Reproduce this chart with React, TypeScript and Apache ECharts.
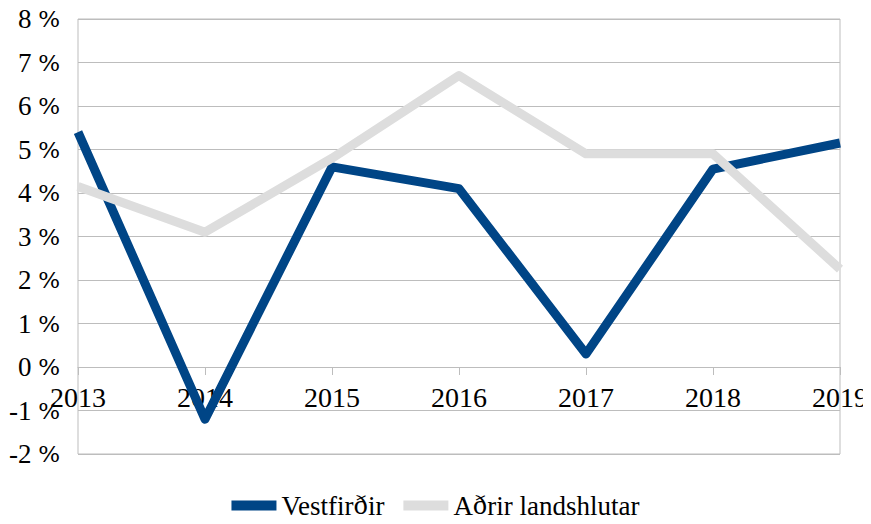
import React, { useEffect, useRef } from "react";
import * as echarts from "echarts";

const years = ["2013", "2014", "2015", "2016", "2017", "2018", "2019"];
const vestfirdir = [5.4, -1.2, 4.6, 4.1, 0.3, 4.55, 5.15];
const adrir = [4.15, 3.1, 4.8, 6.7, 4.9, 4.9, 2.25];
const seriesNames = ["Vestfirðir", "Aðrir landshlutar"];
const seriesColors = ["#004586", "#dddddd"];

const FONT = "Liberation Serif";
const ALT_FONT = "DejaVu Serif";

// split text so that glyphs like "ð" / "%" go into their own run
function splitRich(text: string): string {
  let out = "";
  let buf = "";
  for (const ch of text) {
    if (ch === "ð" || ch === "%") {
      if (buf) out += "{a|" + buf + "}";
      buf = "";
      out += "{e|" + ch + "}";
    } else {
      buf += ch;
    }
  }
  if (buf) out += "{a|" + buf + "}";
  return out;
}

export default function App() {
  const ref = useRef<HTMLDivElement>(null);
  useEffect(() => {
    const chart = echarts.init(ref.current!, null, { renderer: "svg" });
    chart.setOption({
      animation: false,
      backgroundColor: "#fff",
      grid: {
        left: 78,
        right: 28,
        top: 19,
        bottom: 70,
        show: true,
        borderColor: "#bdbdbd",
        borderWidth: 1,
      },
      legend: {
        bottom: 0,
        left: "center",
        icon: "rect",
        itemWidth: 45,
        itemHeight: 10,
        itemGap: 19,
        formatter: (name: string) => splitRich(name),
        textStyle: {
          color: "#000",
          rich: {
            a: { fontFamily: FONT, fontSize: 27, color: "#000" },
            e: { fontFamily: ALT_FONT, fontSize: 24, color: "#000" },
          },
        },
        data: seriesNames,
      },
      xAxis: {
        type: "category",
        data: years,
        boundaryGap: false,
        offset: -87,
        axisLine: { show: true, onZero: false, lineStyle: { color: "#bdbdbd", width: 1 } },
        axisTick: { show: true, length: 8, lineStyle: { color: "#bdbdbd" } },
        axisLabel: {
          color: "#000",
          margin: 16,
          interval: 0,
          formatter: (v: string) => "{a|" + v + "}",
          rich: { a: { fontFamily: FONT, fontSize: 28, color: "#000" } },
        },
      },
      yAxis: {
        type: "value",
        min: -2,
        max: 8,
        interval: 1,
        axisTick: { show: false },
        axisLine: { show: false },
        axisLabel: {
          color: "#000",
          margin: 18,
          formatter: (v: number) => splitRich(v + " %"),
          rich: {
            a: { fontFamily: FONT, fontSize: 27, color: "#000" },
            e: { fontFamily: ALT_FONT, fontSize: 23, color: "#000" },
          },
        },
        splitLine: { lineStyle: { color: "#bdbdbd", width: 1 } },
      },
      series: [
        {
          name: seriesNames[0],
          type: "line",
          data: vestfirdir,
          symbol: "none",
          color: seriesColors[0],
          lineStyle: { width: 9, color: seriesColors[0], join: "round" },
        },
        {
          name: seriesNames[1],
          type: "line",
          data: adrir,
          symbol: "none",
          color: seriesColors[1],
          lineStyle: { width: 9, color: seriesColors[1], join: "round" },
        },
      ],
    });
    return () => chart.dispose();
  }, []);
  return <div ref={ref} style={{ width: 871, height: 524, margin: -8 }} />;
}
